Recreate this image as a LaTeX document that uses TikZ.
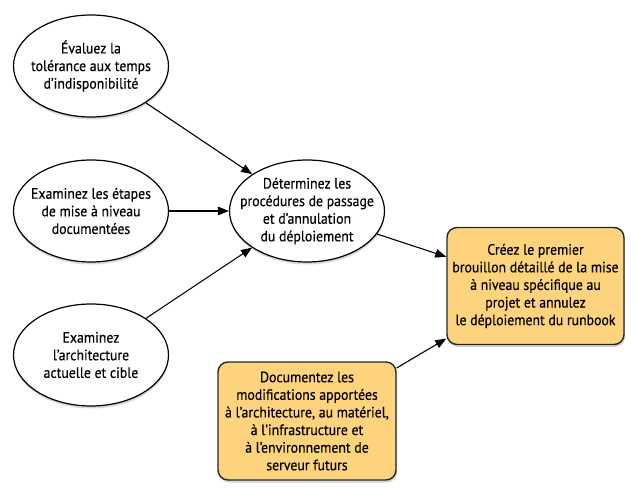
\documentclass[tikz,border=0pt]{standalone}
\usepackage{fontspec}
\setmainfont{PT Sans}[FakeStretch=0.92,FakeBold=0.35]
\usetikzlibrary{shapes.geometric,arrows.meta,shadows}
\definecolor{boxfill}{RGB}{253,211,126}
\begin{document}
\begin{tikzpicture}[x=1pt,y=-1pt,
  txt/.style={font=\fontsize{15}{17.6}\selectfont, align=center, inner sep=0pt},
  ell/.style={ellipse, draw=black, line width=1.2pt, fill=white,
    minimum width=155pt, minimum height=102pt, inner sep=0pt,
    drop shadow={shadow xshift=0.5pt, shadow yshift=-2.5pt, opacity=0.3}},
  box/.style={rectangle, rounded corners=10pt, draw=black!85, line width=1.4pt,
    fill=boxfill, minimum width=177pt, minimum height=117pt, txt,
    drop shadow={shadow xshift=1pt, shadow yshift=-2.5pt, opacity=0.35}},
  arr/.style={-{Triangle[length=11pt,width=8.5pt]}, line width=1.1pt}
]
\useasboundingbox (0,0) rectangle (638,495);

\node[ell, label={[txt]center:Évaluez la\\tolérance aux temps\\d’indisponibilité}] (e1) at (91,66) {};
\node[ell, label={[txt]center:Examinez les étapes\\de mise à niveau\\documentées}] (e2) at (91,211) {};
\node[ell, label={[txt]center:Examinez\\l'architecture\\actuelle et cible}] (e3) at (91,355) {};
\node[ell, label={[txt]center:Déterminez les\\procédures de passage\\et d’annulation\\du déploiement}] (e4) at (307,211) {};

\node[box] (r1) at (535.5,286) {Créez le premier\\brouillon détaillé de la mise\\à niveau spécifique au\\projet et annulez\\le déploiement du runbook};
\node[box, minimum width=178pt, minimum height=118pt] (r2) at (307,421) {Documentez les\\modifications apportées\\à l'architecture, au matériel,\\à l’infrastructure et\\à l'environnement de\\serveur futurs};

\draw[arr] (e1) -- (e4);
\draw[arr] (e2) -- (e4);
\draw[arr] (e3) -- (e4);
\draw[arr] (e4) -- (r1);
\draw[arr] (r2) -- (r1);
\end{tikzpicture}
\end{document}
